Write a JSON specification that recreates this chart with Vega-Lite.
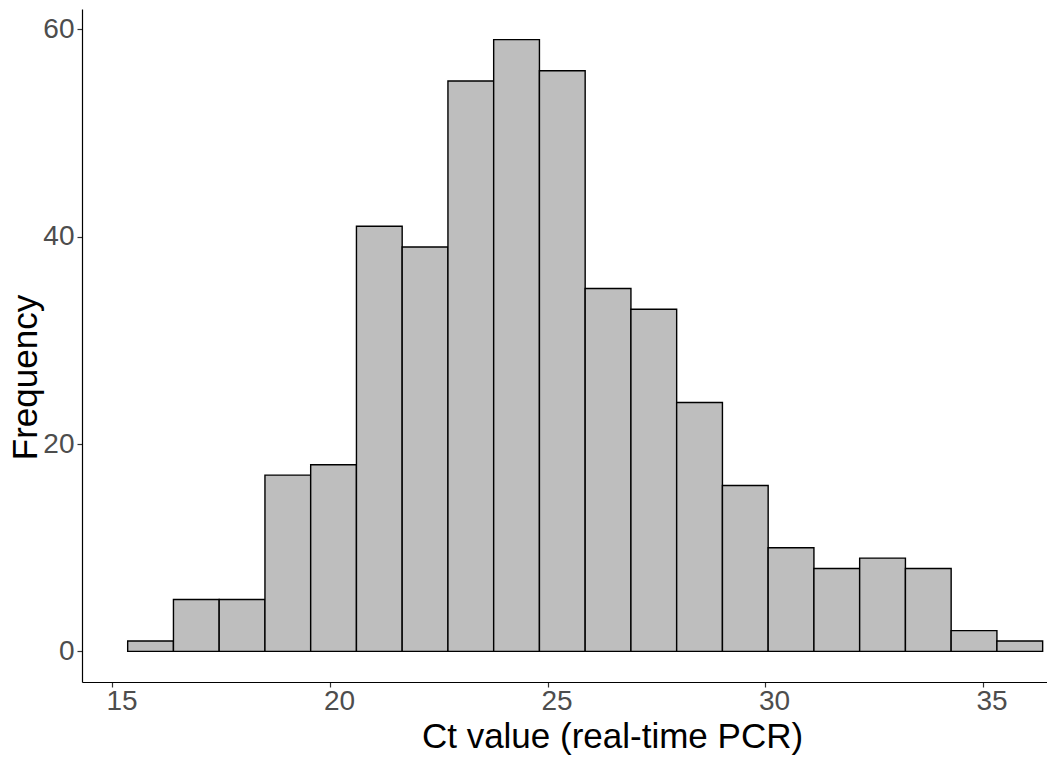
{
  "$schema": "https://vega.github.io/schema/vega-lite/v6.json",
  "width": 965,
  "height": 673,
  "autosize": {"type": "none"},
  "padding": {"left": 82, "top": 9, "right": 0, "bottom": 75},
  "background": "white",
  "config": {
    "view": {"stroke": null},
    "font": "Liberation Sans"
  },
  "data": {
    "values": [
      {"bin_start": 15.350, "bin_end": 16.402, "count": 1},
      {"bin_start": 16.402, "bin_end": 17.453, "count": 5},
      {"bin_start": 17.453, "bin_end": 18.505, "count": 5},
      {"bin_start": 18.505, "bin_end": 19.556, "count": 17},
      {"bin_start": 19.556, "bin_end": 20.608, "count": 18},
      {"bin_start": 20.608, "bin_end": 21.659, "count": 41},
      {"bin_start": 21.659, "bin_end": 22.711, "count": 39},
      {"bin_start": 22.711, "bin_end": 23.762, "count": 55},
      {"bin_start": 23.762, "bin_end": 24.814, "count": 59},
      {"bin_start": 24.814, "bin_end": 25.865, "count": 56},
      {"bin_start": 25.865, "bin_end": 26.917, "count": 35},
      {"bin_start": 26.917, "bin_end": 27.968, "count": 33},
      {"bin_start": 27.968, "bin_end": 29.020, "count": 24},
      {"bin_start": 29.020, "bin_end": 30.071, "count": 16},
      {"bin_start": 30.071, "bin_end": 31.123, "count": 10},
      {"bin_start": 31.123, "bin_end": 32.174, "count": 8},
      {"bin_start": 32.174, "bin_end": 33.226, "count": 9},
      {"bin_start": 33.226, "bin_end": 34.277, "count": 8},
      {"bin_start": 34.277, "bin_end": 35.329, "count": 2},
      {"bin_start": 35.329, "bin_end": 36.380, "count": 1}
    ]
  },
  "mark": {"type": "rect", "fill": "#BEBEBE", "stroke": "black", "strokeWidth": 1.4},
  "encoding": {
    "x": {
      "field": "bin_start",
      "type": "quantitative",
      "scale": {"domain": [14.30, 36.48], "nice": false, "zero": false},
      "axis": {
        "values": [15, 20, 25, 30, 35],
        "grid": false,
        "labelFont": "Liberation Sans",
        "labelFontSize": 28,
        "labelColor": "#4D4D4D",
        "labelPadding": 0,
        "labelOffset": 9,
        "tickSize": 5,
        "tickColor": "#333333",
        "tickWidth": 1.2,
        "domainColor": "black",
        "domainWidth": 1.2,
        "title": "Ct value (real-time PCR)",
        "titleFont": "Liberation Sans",
        "titleFontSize": 35,
        "titleFontWeight": "normal",
        "titleColor": "black",
        "titlePadding": 4,
        "titleX": 530
      }
    },
    "x2": {"field": "bin_end"},
    "y": {
      "field": "count",
      "type": "quantitative",
      "scale": {"domain": [-2.95, 61.95], "nice": false, "zero": false},
      "axis": {
        "values": [0, 20, 40, 60],
        "grid": false,
        "labelFont": "Liberation Sans",
        "labelFontSize": 28,
        "labelColor": "#4D4D4D",
        "labelPadding": 3,
        "tickSize": 5,
        "tickColor": "#333333",
        "tickWidth": 1.2,
        "domainColor": "black",
        "domainWidth": 1.2,
        "title": "Frequency",
        "titleFont": "Liberation Sans",
        "titleFontSize": 35,
        "titleFontWeight": "normal",
        "titleColor": "black",
        "titlePadding": -1,
        "titleY": 368
      }
    },
    "y2": {"datum": 0}
  }
}
